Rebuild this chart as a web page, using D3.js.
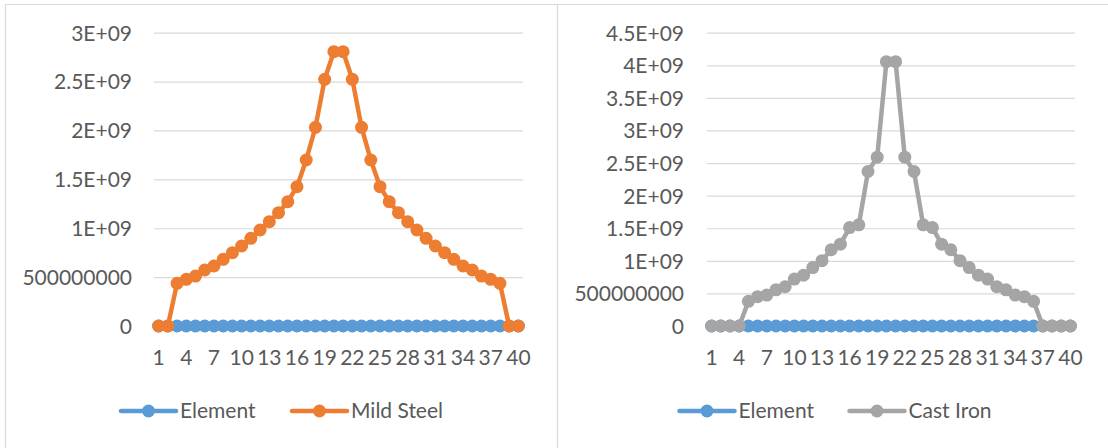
<!DOCTYPE html>
<html>
<head>
<meta charset="utf-8">
<script src="https://cdn.jsdelivr.net/npm/d3@7"></script>
<style>
  html, body { margin: 0; padding: 0; background: #ffffff; }
  svg { display: block; }
  text { font-family: "Lato", "Open Sans", sans-serif; fill: #595959; }
</style>
</head>
<body>
<svg id="chart" width="1108" height="448"></svg>
<script>
// Element index along the member
const categories = [1,2,3,4,5,6,7,8,9,10,11,12,13,14,15,16,17,18,19,20,
                    21,22,23,24,25,26,27,28,29,30,31,32,33,34,35,36,37,38,39,40];

// Labels shown on the category axis
const xTickLabels = [1,4,7,10,13,16,19,22,25,28,31,34,37,40];

// "Element" series (plotted as values in both charts)
const elementValues = [0,0,0,0,0,0,0,0,0,0,0,0,0,0,0,0,0,0,0,0,
                       0,0,0,0,0,0,0,0,0,0,0,0,0,0,0,0,0,0,0,0];

// Mild steel results per element
const mildSteel = [0, 0, 4.36e8, 4.77e8, 5.11e8, 5.73e8, 6.14e8, 6.82e8, 7.50e8, 8.18e8,
                   8.97e8, 9.82e8, 1.067e9, 1.159e9, 1.272e9, 1.425e9, 1.698e9, 2.032e9, 2.523e9, 2.806e9,
                   2.806e9, 2.523e9, 2.032e9, 1.698e9, 1.425e9, 1.272e9, 1.159e9, 1.067e9, 9.82e8, 8.97e8,
                   8.18e8, 7.50e8, 6.82e8, 6.14e8, 5.73e8, 5.11e8, 4.77e8, 4.36e8, 0, 0];

// Cast iron results per element
const castIron = [0, 0, 0, 0, 3.78e8, 4.50e8, 4.75e8, 5.55e8, 6.03e8, 7.20e8,
                  7.80e8, 8.97e8, 1.003e9, 1.170e9, 1.255e9, 1.510e9, 1.552e9, 2.370e9, 2.590e9, 4.055e9,
                  4.055e9, 2.590e9, 2.370e9, 1.552e9, 1.510e9, 1.255e9, 1.170e9, 1.003e9, 8.97e8, 7.80e8,
                  7.20e8, 6.03e8, 5.55e8, 4.75e8, 4.50e8, 3.78e8, 0, 0, 0, 0];

// Value-axis ticks and their labels
const steelTicks = [0, 5e8, 1e9, 1.5e9, 2e9, 2.5e9, 3e9];
const steelTickLabels = ["0", "500000000", "1E+09", "1.5E+09", "2E+09", "2.5E+09", "3E+09"];
const ironTicks = [0, 5e8, 1e9, 1.5e9, 2e9, 2.5e9, 3e9, 3.5e9, 4e9, 4.5e9];
const ironTickLabels = ["0", "500000000", "1E+09", "1.5E+09", "2E+09", "2.5E+09", "3E+09", "3.5E+09", "4E+09", "4.5E+09"];

const COLORS = { element: "#5b9bd5", steel: "#ed7d31", iron: "#a5a5a5" };
const GRID = "#d9d9d9";
const FONT = "21px";
const MARKER_R = 6.5;

const svg = d3.select("#chart");

// Panel outlines
svg.append("line").attr("x1", 5).attr("x2", 1108).attr("y1", 4.5).attr("y2", 4.5)
  .attr("stroke", GRID).attr("stroke-width", 1);
svg.append("line").attr("x1", 5.5).attr("x2", 5.5).attr("y1", 4).attr("y2", 448)
  .attr("stroke", GRID).attr("stroke-width", 1.2);
svg.append("line").attr("x1", 557.5).attr("x2", 557.5).attr("y1", 4).attr("y2", 448)
  .attr("stroke", GRID).attr("stroke-width", 1.2);

function drawChart(cfg) {
  const g = svg.append("g");
  const x = d3.scaleBand().domain(categories).range([cfg.left, cfg.right]);
  const y = d3.scaleLinear().domain([0, cfg.max]).range([cfg.bottom, cfg.top]);
  const cx = c => x(c) + x.bandwidth() / 2;

  // horizontal gridlines
  const grid = g.append("g").attr("transform", `translate(${cfg.left},0)`)
    .call(d3.axisLeft(y).tickValues(cfg.ticks).tickSize(-(cfg.right - cfg.left)).tickFormat(""));
  grid.select(".domain").remove();
  grid.selectAll("line").attr("stroke", GRID).attr("stroke-width", 1.2);

  // value axis labels
  const yAxis = g.append("g").attr("transform", `translate(${cfg.labelRight},0)`)
    .call(d3.axisLeft(y).tickValues(cfg.ticks).tickSize(0).tickPadding(0)
      .tickFormat((d, i) => cfg.tickLabels[i]));
  yAxis.select(".domain").remove();
  yAxis.selectAll("text").attr("font-size", FONT).attr("fill", "#595959")
    .attr("font-family", "Lato").attr("dy", "0.35em");

  // category axis labels
  const xAxis = g.append("g").attr("transform", `translate(0,${cfg.bottom})`)
    .call(d3.axisBottom(x).tickValues(xTickLabels).tickSize(0).tickPadding(0));
  xAxis.select(".domain").remove();
  xAxis.selectAll("text").attr("font-size", FONT).attr("fill", "#595959")
    .attr("font-family", "Lato").attr("y", 32).attr("dy", "0.35em");

  const line = d3.line().x((d, i) => cx(categories[i])).y(d => y(d));

  cfg.series.forEach(s => {
    const sg = g.append("g");
    sg.append("path").datum(s.values).attr("d", line)
      .attr("fill", "none").attr("stroke", s.color).attr("stroke-width", 4.5)
      .attr("stroke-linejoin", "round").attr("stroke-linecap", "round");
    sg.selectAll("circle").data(s.values).join("circle")
      .attr("cx", (d, i) => cx(categories[i])).attr("cy", d => y(d))
      .attr("r", MARKER_R).attr("fill", s.color);
  });

  // legend
  const lg = g.append("g");
  cfg.series.forEach((s, i) => {
    const lx = cfg.legendX[i];
    const item = lg.append("g").attr("transform", `translate(${lx},${cfg.legendY})`);
    item.append("line").attr("x1", 0).attr("x2", 55).attr("y1", 0).attr("y2", 0)
      .attr("stroke", s.color).attr("stroke-width", 4.5).attr("stroke-linecap", "round");
    item.append("circle").attr("cx", 27.5).attr("cy", 0).attr("r", MARKER_R).attr("fill", s.color);
    item.append("text").attr("x", 59).attr("y", 0).attr("dy", "0.35em")
      .attr("font-size", FONT).text(s.name);
  });
}

drawChart({
  left: 154, right: 523, top: 32.7, bottom: 326, labelRight: 132,
  max: 3e9, ticks: steelTicks, tickLabels: steelTickLabels,
  legendY: 411, legendX: [121, 292],
  series: [
    { name: "Element", values: elementValues, color: COLORS.element },
    { name: "Mild Steel", values: mildSteel, color: COLORS.steel }
  ]
});

drawChart({
  left: 707, right: 1075, top: 32.7, bottom: 326, labelRight: 684,
  max: 4.5e9, ticks: ironTicks, tickLabels: ironTickLabels,
  legendY: 411, legendX: [679.5, 849.5],
  series: [
    { name: "Element", values: elementValues, color: COLORS.element },
    { name: "Cast Iron", values: castIron, color: COLORS.iron }
  ]
});
</script>
</body>
</html>
